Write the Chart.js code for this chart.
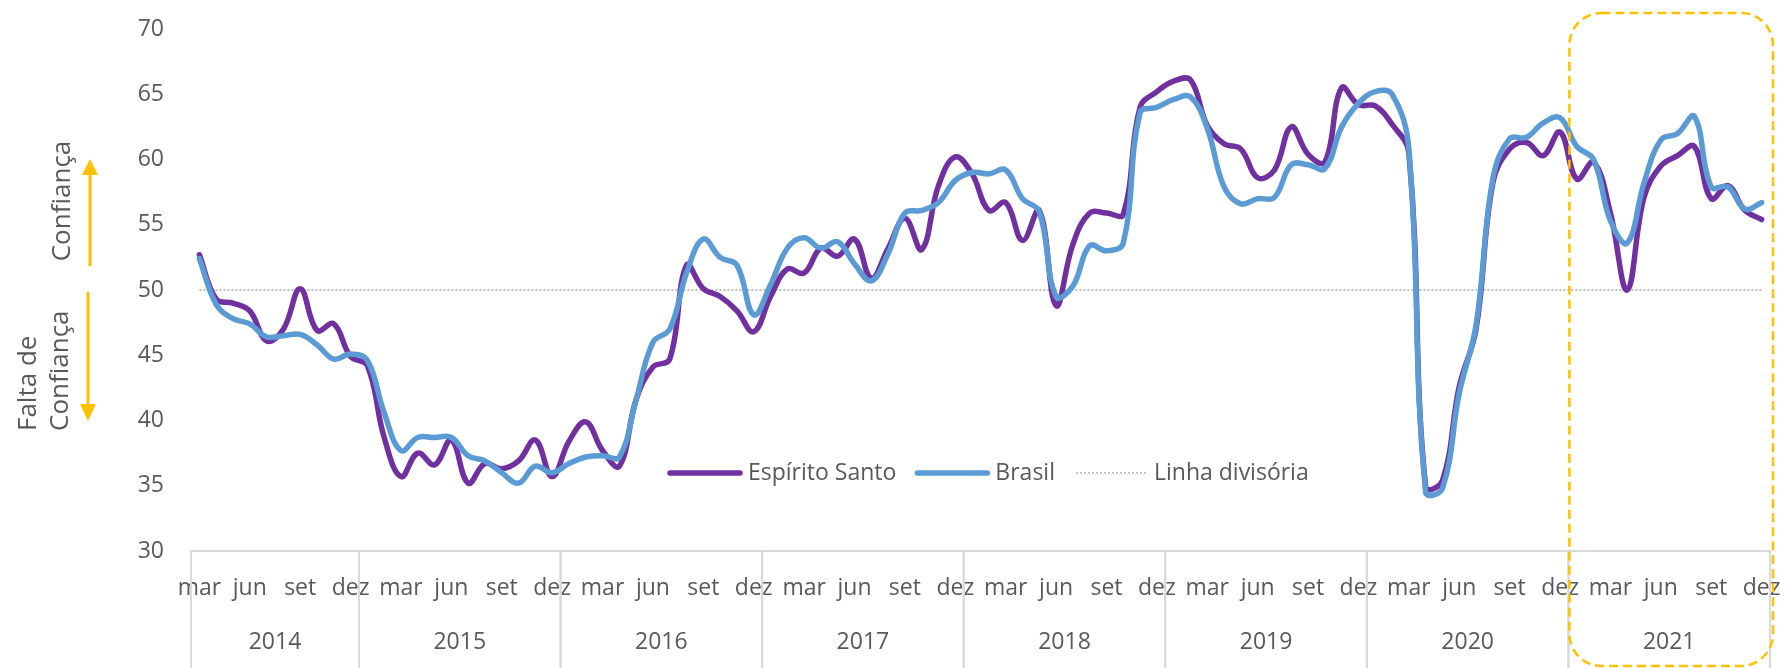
<!DOCTYPE html>
<html><head><meta charset="utf-8">
<script src="https://cdn.jsdelivr.net/npm/chart.js@4.4.1/dist/chart.umd.min.js"></script>
<style>html,body{margin:0;padding:0;background:#fff;}#wrap{width:1785px;height:668px;}</style>
</head><body><div id="wrap"><canvas id="c" width="1785" height="668"></canvas></div>
<script>
const YEARS = ['2014','2015','2016','2017','2018','2019','2020','2021'];
const MONTHS = ['jan','fev','mar','abr','mai','jun','jul','ago','set','out','nov','dez'];
const FIRST_MONTH_INDEX = 2; // série começa em mar/2014
const TICK_MONTHS = ['mar','jun','set','dez'];
const Y_TICKS = [30,35,40,45,50,55,60,65,70];
const SERIES_NAMES = ['Espírito Santo','Brasil','Linha divisória'];
const HIGHLIGHT_YEAR = '2021';

const ES = [
  52.7,49.3,49.0,48.4,46.1,47.0,50.1,46.9,47.4,44.9,
  44.2,38.7,35.7,37.5,36.6,38.5,35.2,36.7,36.3,36.9,38.5,35.7,
  38.4,39.9,37.7,36.5,41.6,44.1,44.7,51.9,50.1,49.5,48.4,46.8,
  49.5,51.6,51.3,53.2,52.6,53.9,50.9,53.2,55.5,53.1,58.0,60.2,
  58.9,56.1,56.7,53.8,56.1,48.8,53.5,55.9,55.9,55.8,64.0,65.2,
  66.0,66.1,62.6,61.2,60.8,58.6,59.2,62.5,60.4,59.8,65.5,64.2,
  64.1,62.7,60.5,34.9,35.4,42.6,47.0,58.2,60.8,61.3,60.3,62.1,
  58.5,59.8,55.9,50.0,57.1,59.5,60.3,61.0,57.0,58.0,56.1,55.4
];
const BR = [
  52.4,48.9,47.8,47.4,46.4,46.5,46.6,45.8,44.7,45.1,
  44.6,40.6,37.7,38.7,38.7,38.7,37.3,36.9,36.0,35.2,36.5,36.0,
  36.7,37.2,37.3,37.2,41.6,46.0,47.0,51.3,53.9,52.5,51.9,48.1,
  50.4,53.2,54.0,53.2,53.7,52.0,50.7,52.8,55.9,56.1,56.7,58.4,
  59.0,58.9,59.2,57.0,56.0,49.5,50.3,53.4,53.0,53.6,63.6,64.0,
  64.6,64.8,62.4,57.9,56.6,57.0,57.1,59.6,59.6,59.3,62.5,64.3,
  65.2,65.0,60.8,34.5,34.8,42.1,47.3,58.5,61.6,61.7,62.8,63.2,
  61.0,60.0,55.3,53.6,58.2,61.5,62.0,63.3,57.9,57.9,56.2,56.7
];
const DIVISORIA = [
  50,50,50,50,50,50,50,50,50,50,
  50,50,50,50,50,50,50,50,50,50,50,50,
  50,50,50,50,50,50,50,50,50,50,50,50,
  50,50,50,50,50,50,50,50,50,50,50,50,
  50,50,50,50,50,50,50,50,50,50,50,50,
  50,50,50,50,50,50,50,50,50,50,50,50,
  50,50,50,50,50,50,50,50,50,50,50,50,
  50,50,50,50,50,50,50,50,50,50,50,50
];

const categories = [];
const catYear = [];
YEARS.forEach((y, yi) => MONTHS.forEach((m, mi) => {
  if (yi === 0 && mi < FIRST_MONTH_INDEX) return;
  categories.push(m);
  catYear.push(y);
}));

const FONT = "'Open Sans', 'DejaVu Sans', sans-serif";
const TXT = '#595959';
const GOLD = '#FFC000';

const decor = {
  id: 'decor',
  afterDraw(chart) {
    const c = chart.ctx, x = chart.scales.x, ca = chart.chartArea;
    const step = x.getPixelForValue(1) - x.getPixelForValue(0);
    const H = chart.height;
    c.save();
    // year separators + labels
    c.strokeStyle = '#D9D9D9'; c.lineWidth = 2;
    c.fillStyle = TXT; c.font = '23px ' + FONT;
    c.textAlign = 'center'; c.textBaseline = 'middle';
    YEARS.forEach(y => {
      const first = catYear.indexOf(y), last = catYear.lastIndexOf(y);
      const l = x.getPixelForValue(first) - step / 2;
      const r = x.getPixelForValue(last) + step / 2;
      c.beginPath(); c.moveTo(l, ca.bottom); c.lineTo(l, H); c.stroke();
      c.beginPath(); c.moveTo(r, ca.bottom); c.lineTo(r, H); c.stroke();
      c.fillText(y, (l + r) / 2, 642);
    });
    // legend
    let lx = 670; const ly = 473;
    c.textAlign = 'left';
    chart.data.datasets.forEach((ds, i) => {
      c.save();
      c.strokeStyle = ds.borderColor; c.lineWidth = ds.borderWidth;
      c.lineCap = ds.borderDash ? 'butt' : 'round';
      c.setLineDash(ds.borderDash || []);
      c.beginPath(); c.moveTo(lx, ly); c.lineTo(lx + 70, ly); c.stroke();
      c.restore();
      lx += 78;
      c.fillStyle = TXT; c.font = '23px ' + FONT;
      c.fillText(ds.label, lx, ly);
      lx += c.measureText(ds.label).width + 21;
    });
    // side arrows
    c.strokeStyle = GOLD; c.fillStyle = GOLD; c.lineWidth = 3;
    c.beginPath(); c.moveTo(90, 266); c.lineTo(90, 172); c.stroke();
    c.beginPath(); c.moveTo(90, 159); c.lineTo(82, 175); c.lineTo(98, 175); c.closePath(); c.fill();
    c.beginPath(); c.moveTo(88, 292); c.lineTo(88, 406); c.stroke();
    c.beginPath(); c.moveTo(88, 421); c.lineTo(80, 404); c.lineTo(96, 404); c.closePath(); c.fill();
    // side labels
    c.fillStyle = TXT; c.font = '26px ' + FONT; c.textBaseline = 'alphabetic';
    c.save(); c.translate(70, 201); c.rotate(-Math.PI / 2);
    c.textAlign = 'center'; c.fillText('Confiança', 0, 0); c.restore();
    c.save(); c.translate(36, 431); c.rotate(-Math.PI / 2);
    c.textAlign = 'left'; c.fillText('Falta de', 0, 0); c.restore();
    c.save(); c.translate(68, 431); c.rotate(-Math.PI / 2);
    c.textAlign = 'left'; c.fillText('Confiança', 0, 0); c.restore();
    // highlight box
    const hf = catYear.indexOf(HIGHLIGHT_YEAR), hl = catYear.lastIndexOf(HIGHLIGHT_YEAR);
    const bx = x.getPixelForValue(hf) - step / 2 + 1;
    const br = x.getPixelForValue(hl) + step / 2 + 3;
    const bt = 13, bb = 666, rad = 32;
    c.strokeStyle = GOLD; c.lineWidth = 2.5; c.setLineDash([9, 5]);
    c.beginPath(); c.roundRect(bx, bt, br - bx, bb - bt, rad); c.stroke();
    c.restore();
  }
};

new Chart(document.getElementById('c'), {
  type: 'line',
  data: {
    labels: categories,
    datasets: [
      { label: SERIES_NAMES[0], data: ES, borderColor: '#7030A0', borderWidth: 5.5, tension: 0.4, pointRadius: 0, order: 2, borderCapStyle: 'round', borderJoinStyle: 'round' },
      { label: SERIES_NAMES[1], data: BR, borderColor: '#5B9BD5', borderWidth: 5.5, tension: 0.4, pointRadius: 0, order: 1, borderCapStyle: 'round', borderJoinStyle: 'round' },
      { label: SERIES_NAMES[2], data: DIVISORIA, borderColor: '#A6A6A6', borderWidth: 1.3, borderDash: [2, 2], tension: 0, pointRadius: 0, order: 3 }
    ]
  },
  options: {
    responsive: false, animation: false, devicePixelRatio: 1,
    layout: { padding: { top: 29, right: 15, bottom: 0, left: 0 } },
    plugins: { legend: { display: false }, tooltip: { enabled: false } },
    scales: {
      x: {
        type: 'category', offset: true,
        grid: { display: false, drawTicks: false },
        border: { display: true, color: '#D9D9D9', width: 2 },
        ticks: {
          autoSkip: false, maxRotation: 0, minRotation: 0, padding: 24,
          color: TXT, font: { family: FONT, size: 23 },
          callback: (v, i) => TICK_MONTHS.includes(categories[i]) ? categories[i] : ''
        },
        afterFit: s => { s.height = 117; s.paddingLeft = 0; s.paddingRight = 0; }
      },
      y: {
        min: 30, max: 70,
        grid: { display: false, drawTicks: false },
        border: { display: false },
        ticks: { padding: 27, color: TXT, font: { family: FONT, size: 23 } },
        afterBuildTicks: s => { s.ticks = Y_TICKS.map(v => ({ value: v })); },
        afterFit: s => { s.width = 191; s.paddingTop = 0; s.paddingBottom = 0; }
      }
    }
  },
  plugins: [decor]
});
</script>
</body></html>
